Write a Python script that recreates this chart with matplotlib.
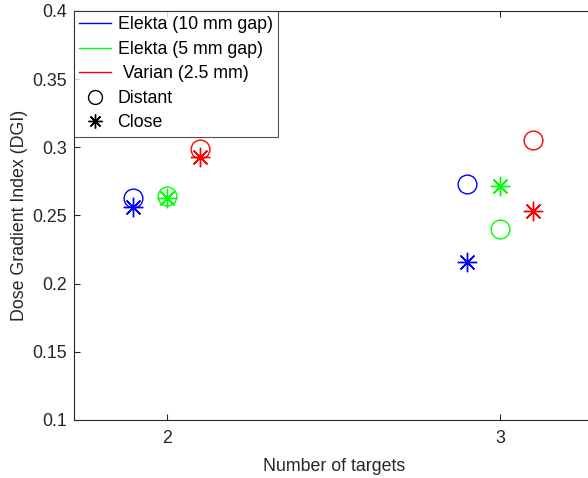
import matplotlib.pyplot as plt
from matplotlib.lines import Line2D

plt.rcParams['font.family'] = ['Liberation Sans', 'DejaVu Sans']

# data
targets = [2, 3]
offsets = [-0.1, 0.0, 0.1]
series_names = ["Elekta (10 mm gap)", "Elekta (5 mm gap)", " Varian (2.5 mm)"]
series_colors = ["#0000ff", "#00ff00", "#ff0000"]
distant_dgi = [[0.2626, 0.2731], [0.2640, 0.2399], [0.2989, 0.3054]]
close_dgi = [[0.2560, 0.2161], [0.2625, 0.2719], [0.2927, 0.2533]]

yticks = [0.1, 0.15, 0.2, 0.25, 0.3, 0.35, 0.4]
ytick_labels = ["0.1", "0.15", "0.2", "0.25", "0.3", "0.35", "0.4"]

star = (8, 2, 0)
axis_color = "#262626"
fs = 12.8

fig = plt.figure(figsize=(5.88, 4.78), dpi=100)
ax = fig.add_axes([74 / 588, 58 / 478, 520 / 588, 409 / 478])

for off, col, dist, clo in zip(offsets, series_colors, distant_dgi, close_dgi):
    xs = [t + off for t in targets]
    ax.plot(xs, dist, linestyle="none", marker="o", markersize=13.5,
            markerfacecolor="none", markeredgecolor=col, markeredgewidth=1.0)
    ax.plot(xs, clo, linestyle="none", marker=star, markersize=14,
            markeredgecolor=col, markeredgewidth=1.0)

ax.set_xlim(1.722, 3.282)
ax.set_ylim(0.1, 0.4)
ax.set_xticks(targets)
ax.set_yticks(yticks)
ax.set_yticklabels(ytick_labels)
ax.tick_params(direction="in", top=True, right=True, length=4, width=0.8,
               labelsize=fs, colors=axis_color, labelcolor=axis_color)
ax.tick_params(axis="x", pad=7)
ax.tick_params(axis="y", pad=5)
for sp in ax.spines.values():
    sp.set_color(axis_color)
    sp.set_linewidth(0.8)

ax.set_xlabel("Number of targets", fontsize=fs, color=axis_color, labelpad=8)
ax.set_ylabel("Dose Gradient Index (DGI)", fontsize=fs, color=axis_color, labelpad=3)

handles = [Line2D([], [], color=c, linewidth=1.0) for c in series_colors]
handles.append(Line2D([], [], linestyle="none", marker="o", markersize=10,
                      markerfacecolor="none", markeredgecolor="black", markeredgewidth=1.0))
handles.append(Line2D([], [], linestyle="none", marker=star, markersize=10,
                      markeredgecolor="black", markeredgewidth=1.0))
labels = series_names + ["Distant", "Close"]
leg = ax.legend(handles, labels, loc="upper left", borderaxespad=0, fontsize=fs,
                frameon=True, fancybox=False, handlelength=1.8, handletextpad=0.35,
                labelspacing=0.42, borderpad=0.3)
leg.get_frame().set_edgecolor(axis_color)
leg.get_frame().set_linewidth(0.8)

fig.savefig("out.png", dpi=100)
